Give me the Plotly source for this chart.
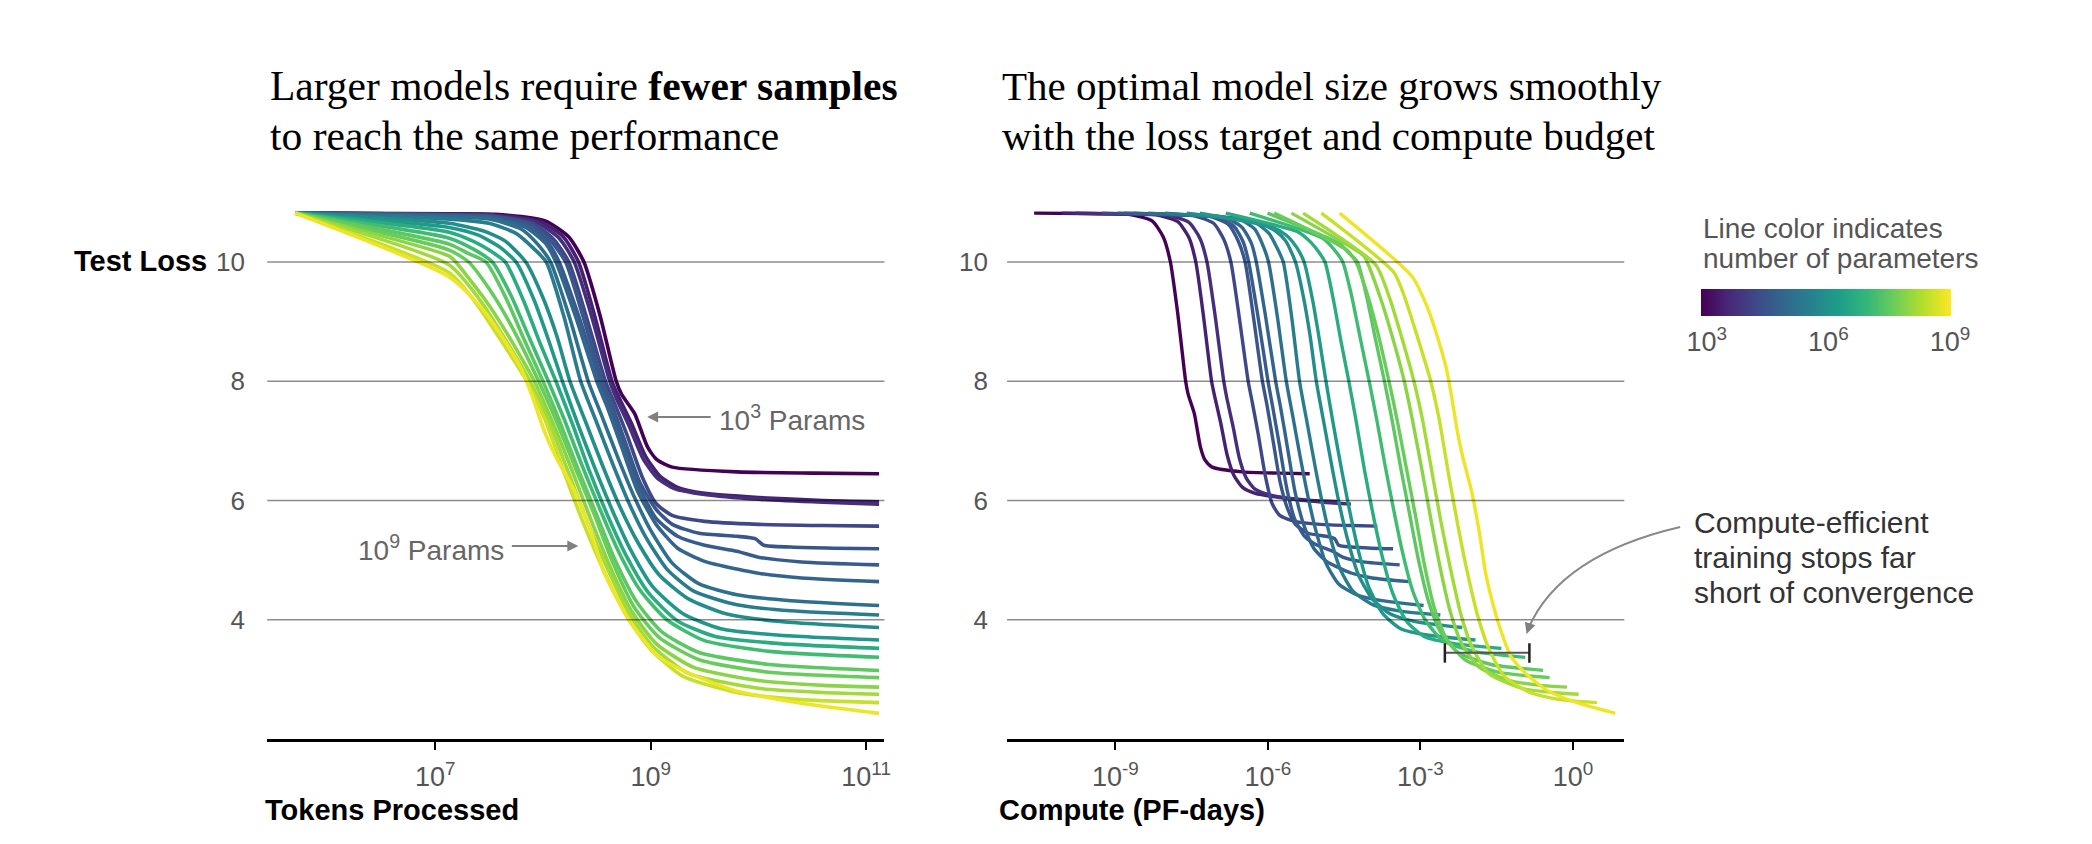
import plotly.graph_objects as go
from plotly.colors import sample_colorscale

W, H = 2092, 844
SANS = "Liberation Sans, Arial, sans-serif"
SERIF = "Liberation Serif, Times New Roman, serif"

# ---------------- data ----------------
# log10 of model parameter count (used for colour and for the compute axis)
log_params = [2.86, 3.41, 3.67, 4.19, 4.50, 4.63, 4.81, 5.10, 5.43, 5.86,
              6.12, 6.63, 7.10, 7.45, 7.58, 7.92, 8.15, 8.51, 8.87]

# each model: log10(tokens processed) and test loss
m00_tok = [5.70, 7.13, 7.56, 8.02, 8.24, 8.38, 8.53, 8.68, 8.73, 8.85, 8.97, 9.06, 9.2, 9.8, 10.5, 11.12]
m00_loss = [10.82, 10.81, 10.80, 10.69, 10.42, 10.0, 9.1, 8.0, 7.78, 7.46, 6.9, 6.68, 6.56, 6.48, 6.46, 6.45]
m01_tok = [5.70, 7.13, 7.55, 7.97, 8.19, 8.33, 8.48, 8.64, 8.7, 8.82, 8.95, 9.08, 9.25, 9.5, 10.0, 10.6, 11.12]
m01_loss = [10.82, 10.80, 10.79, 10.68, 10.42, 10.0, 9.1, 8.0, 7.75, 7.3, 6.75, 6.42, 6.22, 6.12, 6.05, 6.0, 5.98]
m02_tok = [5.70, 7.13, 7.5, 7.93, 8.15, 8.29, 8.45, 8.62, 8.68, 8.8, 8.93, 9.06, 9.22, 9.5, 10.0, 10.6, 11.12]
m02_loss = [10.82, 10.80, 10.79, 10.67, 10.4, 10.0, 9.1, 8.0, 7.72, 7.25, 6.7, 6.38, 6.2, 6.1, 6.02, 5.97, 5.94]
m03_tok = [5.70, 7.13, 7.5, 7.9, 8.1, 8.24, 8.4, 8.58, 8.66, 8.78, 8.92, 9.05, 9.2, 9.5, 10.0, 10.6, 11.12]
m03_loss = [10.82, 10.79, 10.78, 10.65, 10.38, 10.0, 9.1, 8.0, 7.65, 7.1, 6.4, 5.95, 5.75, 5.65, 5.6, 5.58, 5.57]
m04_tok = [5.70, 7.13, 7.5, 7.88, 8.07, 8.21, 8.37, 8.55, 8.64, 8.76, 8.9, 9.05, 9.2, 9.45, 9.8, 9.97, 10.05, 10.3, 10.7, 11.12]
m04_loss = [10.82, 10.79, 10.77, 10.63, 10.36, 10.0, 9.1, 8.0, 7.6, 7.0, 6.3, 5.85, 5.6, 5.45, 5.4, 5.36, 5.25, 5.22, 5.2, 5.19]
m05_tok = [5.70, 7.13, 7.5, 7.86, 8.04, 8.15, 8.33, 8.53, 8.62, 8.75, 8.9, 9.05, 9.25, 9.5, 9.8, 10.0, 10.4, 11.12]
m05_loss = [10.82, 10.78, 10.76, 10.6, 10.34, 10.0, 9.1, 8.0, 7.58, 6.95, 6.2, 5.7, 5.4, 5.25, 5.15, 5.05, 4.97, 4.92]
m06_tok = [5.70, 7.13, 7.5, 7.84, 8.02, 8.12, 8.3, 8.5, 8.6, 8.73, 8.88, 9.05, 9.25, 9.5, 9.8, 10.0, 10.4, 11.12]
m06_loss = [10.82, 10.78, 10.75, 10.58, 10.32, 10.0, 9.1, 8.0, 7.55, 6.9, 6.15, 5.6, 5.2, 4.98, 4.85, 4.78, 4.7, 4.64]
m07_tok = [5.70, 7.13, 7.5, 7.8, 7.95, 8.07, 8.25, 8.42, 8.55, 8.7, 8.85, 9.0, 9.2, 9.45, 9.8, 10.3, 11.12]
m07_loss = [10.82, 10.76, 10.72, 10.55, 10.3, 10.0, 9.05, 8.0, 7.4, 6.7, 6.05, 5.5, 4.95, 4.6, 4.42, 4.32, 4.24]
m08_tok = [5.70, 7.13, 7.5, 7.75, 7.9, 8.03, 8.2, 8.35, 8.5, 8.65, 8.8, 8.95, 9.15, 9.4, 9.8, 10.3, 11.12]
m08_loss = [10.82, 10.72, 10.65, 10.48, 10.25, 10.0, 9.05, 8.0, 7.3, 6.6, 5.95, 5.4, 4.85, 4.48, 4.25, 4.15, 4.08]
m09_tok = [5.70, 7.13, 7.45, 7.65, 7.84, 8.0, 8.13, 8.25, 8.4, 8.55, 8.7, 8.88, 9.08, 9.35, 9.7, 10.2, 11.12]
m09_loss = [10.82, 10.65, 10.52, 10.35, 10.0, 9.4, 8.75, 8.0, 7.3, 6.6, 5.95, 5.3, 4.75, 4.35, 4.1, 3.97, 3.87]
m10_tok = [5.70, 7.13, 7.4, 7.6, 7.75, 7.92, 8.05, 8.18, 8.32, 8.48, 8.64, 8.82, 9.02, 9.3, 9.65, 10.2, 11.12]
m10_loss = [10.82, 10.58, 10.45, 10.25, 10.0, 9.35, 8.7, 8.0, 7.3, 6.55, 5.85, 5.15, 4.55, 4.1, 3.85, 3.74, 3.66]
m11_tok = [5.70, 7.13, 7.35, 7.5, 7.65, 7.82, 7.97, 8.12, 8.27, 8.43, 8.6, 8.78, 8.98, 9.25, 9.6, 10.2, 11.12]
m11_loss = [10.82, 10.5, 10.35, 10.2, 10.0, 9.35, 8.65, 8.0, 7.3, 6.5, 5.75, 5.05, 4.45, 3.98, 3.72, 3.6, 3.52]
m12_tok = [5.70, 7.13, 7.35, 7.53, 7.7, 7.88, 8.05, 8.2, 8.36, 8.53, 8.7, 8.9, 9.15, 9.5, 10.1, 11.12]
m12_loss = [10.82, 10.4, 10.22, 10.0, 9.45, 8.7, 8.0, 7.35, 6.6, 5.85, 5.15, 4.5, 4.0, 3.65, 3.47, 3.37]
m13_tok = [5.70, 7.13, 7.3, 7.47, 7.65, 7.83, 8.0, 8.15, 8.32, 8.5, 8.67, 8.87, 9.1, 9.45, 10.1, 11.12]
m13_loss = [10.82, 10.3, 10.15, 10.0, 9.42, 8.68, 8.0, 7.35, 6.55, 5.75, 5.0, 4.3, 3.8, 3.45, 3.25, 3.15]
m14_tok = [5.70, 7.13, 7.31, 7.5, 7.7, 7.96, 8.12, 8.3, 8.48, 8.65, 8.85, 9.08, 9.45, 10.1, 11.12]
m14_loss = [10.82, 10.2, 10.0, 9.55, 8.95, 8.0, 7.35, 6.55, 5.75, 4.95, 4.2, 3.7, 3.33, 3.12, 3.03]
m15_tok = [5.70, 7.13, 7.19, 7.45, 7.65, 7.92, 8.08, 8.26, 8.44, 8.62, 8.82, 9.05, 9.4, 10.0, 10.6, 11.12]
m15_loss = [10.82, 10.1, 10.0, 9.4, 8.85, 8.0, 7.35, 6.55, 5.7, 4.9, 4.15, 3.6, 3.2, 2.98, 2.9, 2.87]
m16_tok = [5.70, 7.13, 7.4, 7.6, 7.88, 8.05, 8.23, 8.41, 8.6, 8.8, 9.02, 9.35, 10.0, 10.6, 11.12]
m16_loss = [10.82, 9.95, 9.4, 8.85, 8.0, 7.35, 6.5, 5.65, 4.85, 4.1, 3.55, 3.1, 2.85, 2.78, 2.75]
m17_tok = [5.70, 7.13, 7.35, 7.55, 7.85, 8.02, 8.2, 8.38, 8.57, 8.78, 9.0, 9.3, 9.8, 10.4, 11.12]
m17_loss = [10.82, 9.82, 9.38, 8.85, 8.0, 7.35, 6.45, 5.6, 4.8, 4.05, 3.5, 3.05, 2.78, 2.66, 2.61]
m18_tok = [5.70, 7.13, 7.42, 7.58, 7.79, 7.89, 8.02, 8.12, 8.29, 8.45, 8.57, 8.78, 8.91, 9.07, 9.36, 9.77, 10.40, 11.12]
m18_loss = [10.82, 9.75, 9.25, 8.86, 8.24, 7.80, 7.13, 6.73, 6.17, 5.45, 4.78, 4.06, 3.72, 3.38, 3.10, 2.82, 2.60, 2.43]

curves_tok = [m00_tok, m01_tok, m02_tok, m03_tok, m04_tok, m05_tok, m06_tok, m07_tok, m08_tok, m09_tok,
              m10_tok, m11_tok, m12_tok, m13_tok, m14_tok, m15_tok, m16_tok, m17_tok, m18_tok]
curves_loss = [m00_loss, m01_loss, m02_loss, m03_loss, m04_loss, m05_loss, m06_loss, m07_loss, m08_loss, m09_loss,
               m10_loss, m11_loss, m12_loss, m13_loss, m14_loss, m15_loss, m16_loss, m17_loss, m18_loss]

PF_DAY_FLOPS = 8.64e19          # compute = 6 * N * D / PF-day
loss_grid = [4, 6, 8, 10]
tok_ticks = [1e7, 1e9, 1e11]
tok_ticktext = ["10<sup>7</sup>", "10<sup>9</sup>", "10<sup>11</sup>"]
comp_ticks = [1e-9, 1e-6, 1e-3, 1e0]
comp_ticktext = ["10<sup>-9</sup>", "10<sup>-6</sup>", "10<sup>-3</sup>", "10<sup>0</sup>"]
cbar_ticks = [3, 6, 9]
cbar_ticktext = ["10<sup>3</sup>", "10<sup>6</sup>", "10<sup>9</sup>"]
CMIN, CMAX = 2.85, 9.02

# error bracket on the compute panel (log10 compute, loss)
bracket_logc = [-2.52, -0.857]
bracket_loss = 3.445
bracket_cap = [3.28, 3.605]

# ---------------- figure ----------------
def px(x):
    return x / W

def py(y):
    return 1 - y / H

fig = go.Figure()

for lp, tk, ls in zip(log_params, curves_tok, curves_loss):
    frac = (lp - CMIN) / (CMAX - CMIN)
    col = sample_colorscale("Viridis", [min(max(frac, 0), 1)])[0]
    tokens = [10 ** t for t in tk]
    compute = [6 * (10 ** lp) * d / PF_DAY_FLOPS for d in tokens]
    fig.add_trace(go.Scatter(x=tokens, y=ls, mode="lines", xaxis="x", yaxis="y",
                             line=dict(color=col, width=3.6, shape="spline", smoothing=0.6),
                             hoverinfo="skip"))
    fig.add_trace(go.Scatter(x=compute, y=ls, mode="lines", xaxis="x2", yaxis="y2",
                             line=dict(color=col, width=3.4, shape="spline", smoothing=0.6),
                             hoverinfo="skip"))

# bracket
bx0, bx1 = 10 ** bracket_logc[0], 10 ** bracket_logc[1]
fig.add_trace(go.Scatter(x=[bx0, bx1], y=[bracket_loss, bracket_loss], mode="lines",
                         xaxis="x2", yaxis="y2", line=dict(color="#555", width=2), hoverinfo="skip"))
fig.add_trace(go.Scatter(x=[bx0, bx0, None, bx1, bx1], y=[bracket_cap[0], bracket_cap[1], None, bracket_cap[0], bracket_cap[1]],
                         mode="lines", xaxis="x2", yaxis="y2", line=dict(color="#222", width=2.5), hoverinfo="skip"))

# colorbar carrier
fig.add_trace(go.Scatter(x=[None], y=[None], mode="markers", xaxis="x", yaxis="y",
                         marker=dict(color=[CMIN], colorscale="Viridis", cmin=CMIN, cmax=CMAX, showscale=True,
                                     colorbar=dict(orientation="h", x=px(1831), xanchor="center",
                                                   y=py(289), yanchor="top", len=250, lenmode="pixels",
                                                   thickness=27, thicknessmode="pixels", outlinewidth=0,
                                                   tickvals=cbar_ticks, ticktext=cbar_ticktext,
                                                   tickfont=dict(size=27, color="#555", family=SANS),
                                                   ticks="outside", ticklen=3, tickcolor="rgba(0,0,0,0)",
                                                   xpad=0, ypad=0)),
                         hoverinfo="skip"))

ydom = [py(739), py(202.4)]
common_x = dict(type="log", showgrid=False, zeroline=False, showline=True, linecolor="black",
                linewidth=2.5, ticks="outside", ticklen=8, tickwidth=2, tickcolor="black",
                tickfont=dict(size=27, color="#555", family=SANS), ticklabelstandoff=4)
common_y = dict(range=[2, 11], domain=ydom, showgrid=False, zeroline=False, showline=False,
                tickvals=loss_grid, ticktext=[str(v) for v in loss_grid],
                tickfont=dict(size=26, color="#555", family=SANS),
                ticks="outside", tickcolor="rgba(0,0,0,0)")

fig.update_layout(
    width=W, height=H, margin=dict(l=0, r=0, t=0, b=0),
    paper_bgcolor="white", plot_bgcolor="white", showlegend=False,
    xaxis=dict(common_x, domain=[px(268), px(887)], range=[5.44, 11.17],
               tickvals=tok_ticks, ticktext=tok_ticktext, anchor="y"),
    yaxis=dict(common_y, anchor="x", ticklen=16),
    xaxis2=dict(common_x, domain=[px(1010), px(1629)], range=[-11.13, 1.01],
                tickvals=comp_ticks, ticktext=comp_ticktext, anchor="y2"),
    yaxis2=dict(common_y, anchor="x2", ticklen=13),
)

shapes = []
for yref, xref in (("y", "x domain"), ("y2", "x2 domain")):
    for v in loss_grid:
        shapes.append(dict(type="line", xref=xref, yref=yref, x0=0, x1=1, y0=v, y1=v,
                           line=dict(color="rgba(0,0,0,0.45)", width=1.5), layer="above"))
# curved arrow
shapes.append(dict(type="path", xref="paper", yref="paper",
                   path=f"M {px(1685)},{py(527)} Q {px(1565)},{py(555)} {px(1533)},{py(628)}",
                   line=dict(color="#888", width=2)))
fig.update_layout(shapes=shapes)

anns = []
def ann(text, x, y, size, color="black", xanchor="left", yanchor="middle", family=SANS):
    anns.append(dict(text=text, x=px(x), y=py(y), xref="paper", yref="paper", showarrow=False,
                     xanchor=xanchor, yanchor=yanchor, align="left",
                     font=dict(size=size, color=color, family=family)))

ann("Larger models require <b>fewer samples</b>", 269, 86, 41.5, "black", family=SERIF)
ann("to reach the same performance", 269, 136, 41.5, "black", family=SERIF)
ann("The optimal model size grows smoothly", 1003, 86, 41, "black", family=SERIF)
ann("with the loss target and compute budget", 1003, 136, 41, "black", family=SERIF)
ann("<b>Test Loss</b>", 72, 261, 29)
ann("<b>Tokens Processed</b>", 264, 810, 29)
ann("<b>Compute (PF-days)</b>", 1000, 810, 29)
ann("10<sup>3</sup> Params", 719, 418, 28, "#666")
ann("10<sup>9</sup> Params", 507, 548, 28, "#666", xanchor="right")
ann("Compute-efficient", 1697, 522, 30, "#333")
ann("training stops far", 1697, 557, 30, "#333")
ann("short of convergence", 1697, 592, 30, "#333")
ann("Line color indicates", 1706, 228, 28, "#555")
ann("number of parameters", 1706, 258, 28, "#555")

# arrows
def arrow(tipx, tipy, tailx, taily):
    anns.append(dict(text="", x=px(tipx), y=py(tipy), xref="paper", yref="paper",
                     ax=tailx - tipx, ay=taily - tipy, axref="pixel", ayref="pixel",
                     showarrow=True, arrowhead=2, arrowsize=1.1, arrowwidth=2, arrowcolor="#808080",
                     standoff=0, startstandoff=0))

arrow(649, 417, 714, 417)
arrow(580, 546, 512, 546)
arrow(1531, 634, 1535, 622)

fig.update_layout(annotations=anns)
fig.write_html("out.html")
